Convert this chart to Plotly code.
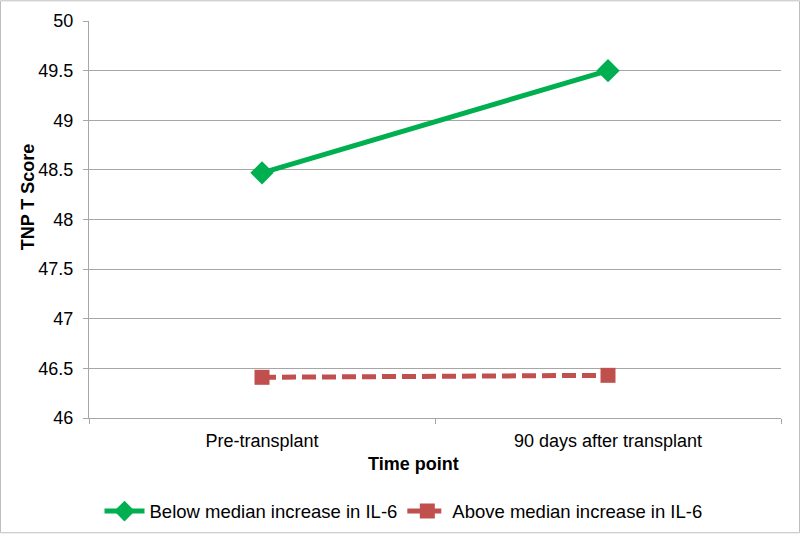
import plotly.graph_objects as go

categories = ["Pre-transplant", "90 days after transplant"]
below_median = [48.47, 49.5]
above_median = [46.41, 46.43]
y_ticks = [46, 46.5, 47, 47.5, 48, 48.5, 49, 49.5, 50]

W, H = 800, 543
L, R, T, B = 89, 19, 21, 119
pw, ph = W - L - R, H - T - B

fig = go.Figure()
fig.add_trace(go.Scatter(
    x=categories, y=below_median, mode="lines+markers",
    name="Below median increase in IL-6",
    line=dict(color="#00B050", width=5),
    marker=dict(symbol="diamond", size=18, color="#00B050"),
))
fig.add_trace(go.Scatter(
    x=categories, y=above_median, mode="lines+markers",
    name="Above median increase in IL-6",
    line=dict(color="#C0504D", width=5, dash="14px,6px"),
    marker=dict(symbol="square", size=15, color="#C0504D"),
))

fig.update_layout(
    width=W, height=H,
    margin=dict(l=L, r=R, t=T, b=B),
    paper_bgcolor="white", plot_bgcolor="white",
    font=dict(family="Liberation Sans, Arial, sans-serif", color="black", size=18),
    showlegend=True,
    legend=dict(orientation="h", x=(403.5 - L) / pw, xanchor="center",
                y=(H - B - 519) / ph, yanchor="middle",
                font=dict(size=18.5), itemwidth=40),
    shapes=[dict(type="rect", xref="paper", yref="paper",
                 x0=-(L - 0.5) / pw, x1=(W - L - 0.5) / pw,
                 y0=-(B - 2.5) / ph, y1=(H - B - 0.5) / ph,
                 line=dict(color="#BFBFBF", width=1), layer="below")],
    annotations=[
        dict(text="<b>TNP T Score</b>", xref="paper", yref="paper",
             x=(28 - L) / pw, y=(H - B - 200) / ph, xanchor="center", yanchor="middle",
             textangle=-90, showarrow=False, font=dict(size=18)),
        dict(text="<b>Time point</b>", xref="paper", yref="paper",
             x=(413 - L) / pw, y=(H - B - 471) / ph, xanchor="center", yanchor="middle",
             showarrow=False, font=dict(size=18)),
    ],
)
fig.update_xaxes(
    type="category", range=[-0.5, 1.5], automargin=False,
    showline=True, linecolor="#A6A6A6", linewidth=1,
    ticks="outside", tickson="boundaries", ticklen=5, tickcolor="#A6A6A6",
    showgrid=False, tickfont=dict(size=18), ticklabelstandoff=6,
)
fig.update_yaxes(
    range=[46, 50], tickvals=y_ticks, ticktext=[f"{v:g}" for v in y_ticks],
    automargin=False,
    showline=True, linecolor="#A6A6A6", linewidth=1,
    ticks="outside", ticklen=5, tickcolor="#A6A6A6",
    showgrid=True, gridcolor="#A6A6A6", gridwidth=1,
    tickfont=dict(size=18), zeroline=False, ticklabelstandoff=6,
)

fig.write_html("out.html", config={"displayModeBar": False},
               post_script="document.body.style.margin='0';document.body.style.overflow='hidden';")
